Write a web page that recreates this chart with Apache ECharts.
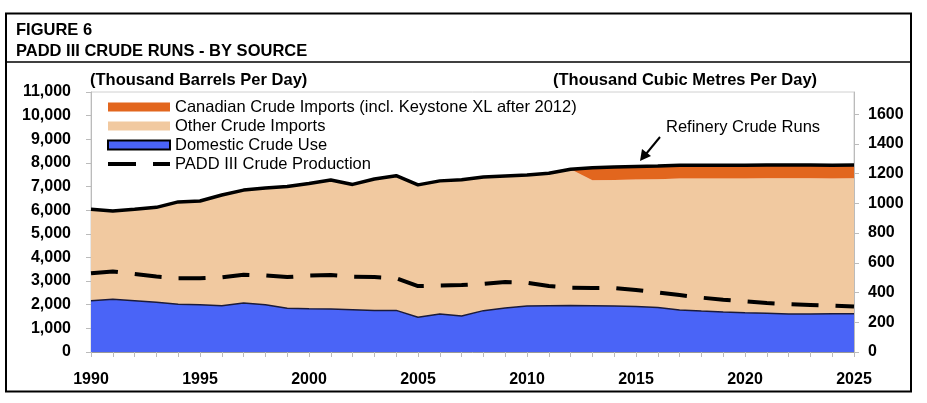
<!DOCTYPE html>
<html>
<head>
<meta charset="utf-8">
<script src="https://cdn.jsdelivr.net/npm/echarts@6/dist/echarts.min.js"></script>
<style>
html,body{margin:0;padding:0;background:#fff;}
#chart{width:927px;height:403px;}
</style>
</head>
<body>
<div id="chart"></div>
<script>
// Years 1990..2025
const years = ['1990','1991','1992','1993','1994','1995','1996','1997','1998','1999',
  '2000','2001','2002','2003','2004','2005','2006','2007','2008','2009',
  '2010','2011','2012','2013','2014','2015','2016','2017','2018','2019',
  '2020','2021','2022','2023','2024','2025'];
// Thousand barrels per day
const domesticCrudeUse = [2170,2230,2170,2100,2020,2000,1960,2070,2000,1850,
  1830,1820,1790,1760,1760,1470,1610,1520,1750,1860,
  1950,1960,1970,1960,1950,1930,1880,1780,1730,1690,
  1660,1640,1610,1610,1620,1620];
const otherCrudeImports = [3870,3740,3870,4020,4330,4390,4680,4780,4940,5150,
  5300,5460,5300,5560,5700,5600,5630,5770,5650,5590,
  5540,5600,5760,5310,5330,5370,5430,5560,5610,5650,
  5680,5710,5740,5740,5720,5730];
const canadianCrudeImports = [0,0,0,0,0,0,0,0,0,0,
  0,0,0,0,0,0,0,0,0,0,
  0,0,0,530,545,550,555,560,560,560,
  560,560,560,560,560,560];
const padd3CrudeProduction = [3330,3410,3300,3190,3120,3120,3160,3270,3240,3170,
  3230,3260,3190,3170,3120,2790,2810,2830,2880,2960,
  2930,2790,2720,2710,2710,2620,2520,2410,2300,2210,
  2140,2070,2020,1990,1960,1920];
const leftTicks = {min:0, max:11000, interval:1000};
const rightTicks = {min:0, interval:200};
const BBL_PER_M3 = 6.2898;

const chart = echarts.init(document.getElementById('chart'), null, {renderer:'canvas'});
const FONT = 'Liberation Sans, Arial, sans-serif';
const C_ORANGE = '#E2661E', C_TAN = '#F1C9A0', C_BLUE = '#4A64F7';

const legendItems = [
  {y:107, text:'Canadian Crude Imports (incl. Keystone XL after 2012)', kind:'orange'},
  {y:126, text:'Other Crude Imports', kind:'tan'},
  {y:145, text:'Domestic Crude Use', kind:'blue'},
  {y:164, text:'PADD III Crude Production', kind:'dash'}
];
const legendGraphics = [];
legendItems.forEach(it => {
  if (it.kind === 'dash') {
    legendGraphics.push({type:'rect', shape:{x:108,y:it.y-2,width:28,height:4}, style:{fill:'#000'}, z:100});
    legendGraphics.push({type:'rect', shape:{x:153,y:it.y-2,width:17,height:4}, style:{fill:'#000'}, z:100});
  } else {
    const fill = it.kind==='orange'?C_ORANGE:(it.kind==='tan'?C_TAN:C_BLUE);
    legendGraphics.push({type:'rect', shape:{x:108,y:it.y-4.5,width:62,height:9},
      style:{fill:fill, stroke: it.kind==='blue'?'#000':null, lineWidth: it.kind==='blue'?2:0}, z:100});
  }
  legendGraphics.push({type:'text', x:175, y:it.y+0.5, style:{text:it.text, font:'16.5px '+FONT, fill:'#000', textVerticalAlign:'middle'}, z:100});
});

const option = {
  animation:false,
  backgroundColor:'#fff',
  grid:{left:91, right:73, top:92, bottom:51, show:true, borderColor:'#d0d0d0', borderWidth:1, backgroundColor:'transparent'},
  xAxis:{
    type:'category', data:years, boundaryGap:false,
    axisLine:{lineStyle:{color:'#999', width:1}},
    axisTick:{show:true, interval:0, length:5, lineStyle:{color:'#bbb'}},
    axisLabel:{interval:4, color:'#000', fontWeight:'bold', fontSize:16, fontFamily:FONT, margin:20},
    splitLine:{show:false}
  },
  yAxis:[{
    type:'value', min:leftTicks.min, max:leftTicks.max, interval:leftTicks.interval,
    axisLine:{show:true, lineStyle:{color:'#bbb'}},
    axisTick:{show:true, length:5, lineStyle:{color:'#bbb'}},
    axisLabel:{color:'#000', fontWeight:'bold', fontSize:16, fontFamily:FONT, margin:20,
      formatter: v => v.toLocaleString('en-US')},
    splitLine:{show:false}
  },{
    type:'value', position:'right', min:rightTicks.min, max:leftTicks.max/BBL_PER_M3, interval:rightTicks.interval,
    axisLine:{show:true, lineStyle:{color:'#bbb'}},
    axisTick:{show:true, length:5, lineStyle:{color:'#bbb'}},
    axisLabel:{color:'#000', fontWeight:'bold', fontSize:16, fontFamily:FONT, margin:14, showMaxLabel:false,
      formatter: v => (Math.abs(v - Math.round(v)) < 1e-6 ? String(Math.round(v)) : '')},
    splitLine:{show:false}
  }],
  series:[
    {name:'Domestic Crude Use', type:'line', stack:'crude', data:domesticCrudeUse, symbol:'none',
      lineStyle:{color:'#1a1a3a', width:1.5}, areaStyle:{color:C_BLUE, opacity:1}, z:3},
    {name:'Other Crude Imports', type:'line', stack:'crude', data:otherCrudeImports, symbol:'none',
      lineStyle:{width:0, opacity:0}, areaStyle:{color:C_TAN, opacity:1}, z:2},
    {name:'Canadian Crude Imports', type:'line', stack:'crude', data:canadianCrudeImports, symbol:'none',
      lineStyle:{color:'#000', width:3.5}, areaStyle:{color:C_ORANGE, opacity:1}, z:4},
    {name:'PADD III Crude Production', type:'line', data:padd3CrudeProduction, symbol:'none',
      lineStyle:{color:'#000', width:4, type:[27,17], cap:'butt'}, z:5}
  ],
  graphic:[
    {type:'rect', shape:{x:6,y:13.5,width:905,height:378}, style:{fill:null, stroke:'#000', lineWidth:2}, z:100},
    {type:'line', shape:{x1:6,y1:62,x2:911,y2:62}, style:{stroke:'#000', lineWidth:1.5}, z:100},
    {type:'text', x:16, y:30, style:{text:'FIGURE 6', font:'bold 16.5px '+FONT, fill:'#000', textVerticalAlign:'middle'}, z:100},
    {type:'text', x:16, y:51, style:{text:'PADD III CRUDE RUNS - BY SOURCE', font:'bold 16.5px '+FONT, fill:'#000', textVerticalAlign:'middle'}, z:100},
    {type:'text', x:90, y:80, style:{text:'(Thousand Barrels Per Day)', font:'bold 16.5px '+FONT, fill:'#000', textVerticalAlign:'middle'}, z:100},
    {type:'text', x:553, y:80, style:{text:'(Thousand Cubic Metres Per Day)', font:'bold 16.5px '+FONT, fill:'#000', textVerticalAlign:'middle'}, z:100},
    {type:'text', x:666, y:127, style:{text:'Refinery Crude Runs', font:'16.5px '+FONT, fill:'#000', textVerticalAlign:'middle'}, z:100},
    {type:'line', shape:{x1:660,y1:137,x2:646,y2:154}, style:{stroke:'#000', lineWidth:2}, z:100},
    {type:'polygon', shape:{points:[[640,161],[642,149],[651,156]]}, style:{fill:'#000'}, z:100}
  ].concat(legendGraphics)
};
chart.setOption(option);
</script>
</body>
</html>
